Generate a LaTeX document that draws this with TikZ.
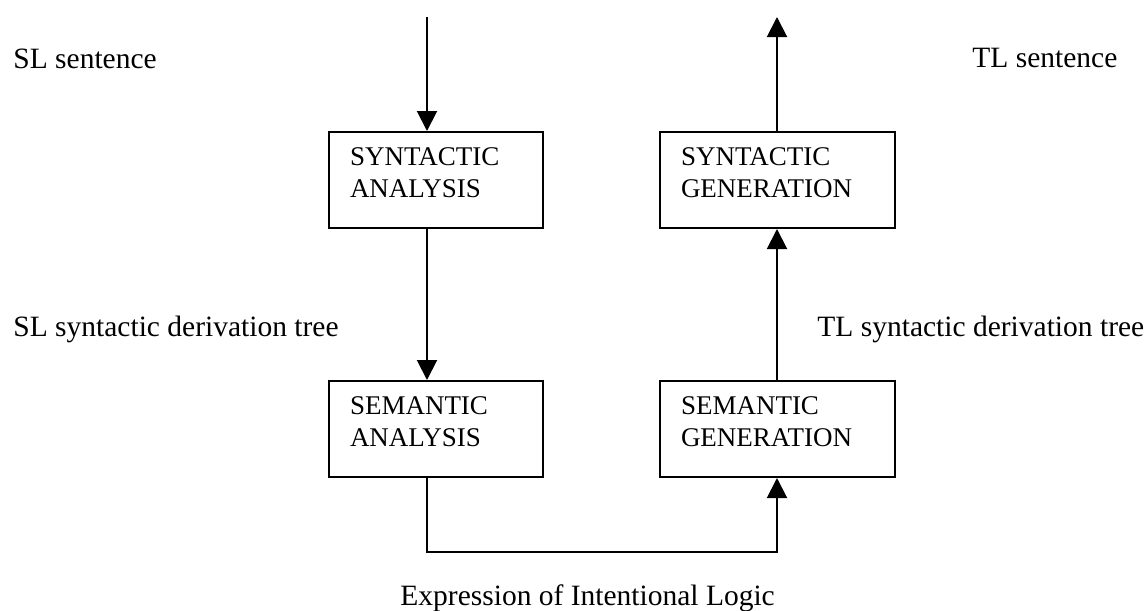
\documentclass[tikz,border=0pt]{standalone}
\usepackage{fontspec}
\setmainfont{Liberation Serif}
\usetikzlibrary{arrows.meta}
\begin{document}
\begin{tikzpicture}[x=0.5pt,y=-0.5pt,
  proc/.style={draw, line width=1pt, rectangle, inner xsep=10.5pt, inner ysep=0pt,
    align=left, font=\fontsize{13.5}{16}\selectfont, text height=16.5pt, text depth=31.5pt},
  lbl/.style={anchor=base west, inner sep=0pt, font=\fontsize{14.75}{17}\selectfont},
  flow/.style={line width=1pt, -{Triangle[width=10pt,length=10pt]}},
  link/.style={line width=1pt}]
\useasboundingbox (0,0) rectangle (1147,611);
\node[proc, text width=86pt] (sa) at (436,180) {SYNTACTIC\\ANALYSIS};
\node[proc, text width=96.5pt] (sg) at (777.5,180) {SYNTACTIC\\GENERATION};
\node[proc, text width=86pt] (ma) at (436,429) {SEMANTIC\\ANALYSIS};
\node[proc, text width=96.5pt] (mg) at (777.5,429) {SEMANTIC\\GENERATION};
\node[lbl] (slsent) at (13,68) {SL sentence};
\node[lbl] (tlsent) at (972,67) {TL sentence};
\node[lbl] (sltree) at (13,336) {SL syntactic derivation tree};
\node[lbl] (tltree) at (817,336) {TL syntactic derivation tree};
\node[lbl] (expr) at (400,605) {Expression of Intentional Logic};
\coordinate (inL) at (427,17);
\coordinate (outR) at (777,17);
\coordinate (lowL) at (427,552);
\draw[flow] (inL) -- (inL |- sa.north);
\draw[flow] (sa.south -| inL) -- (ma.north -| inL);
\draw[flow] (ma.south -| lowL) -- (lowL) -| (mg.south -| outR);
\draw[flow] (mg.north -| outR) -- (sg.south -| outR);
\draw[flow] (sg.north -| outR) -- (outR);
\end{tikzpicture}
\end{document}
